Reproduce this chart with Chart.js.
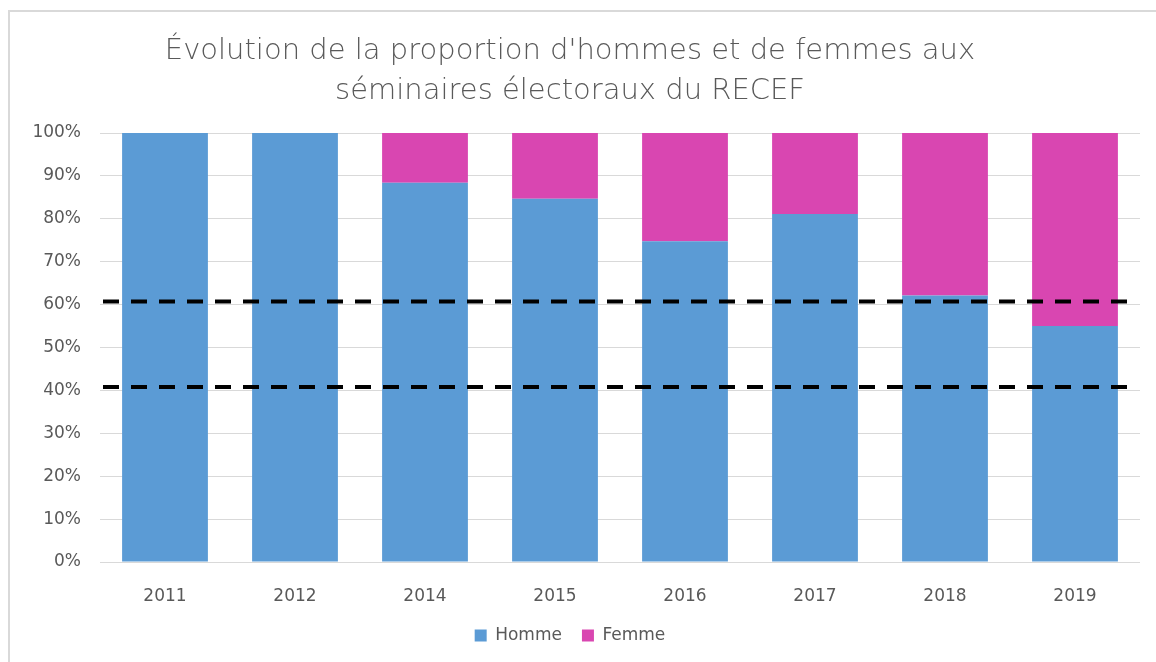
<!DOCTYPE html>
<html>
<head>
<meta charset="utf-8">
<script src="https://cdn.jsdelivr.net/npm/chart.js@4/dist/chart.umd.min.js"></script>
<style>
  html, body { margin: 0; padding: 0; background: #fff; }
  #cadre {
    position: absolute; left: 8px; top: 10px; width: 1160px; height: 660px;
    border-top: 2px solid #d9d9d9; border-left: 2px solid #d9d9d9;
  }
  #zone { position: absolute; left: 0; top: 0; width: 1156px; height: 662px; }
</style>
</head>
<body>
<div id="cadre"></div>
<div id="zone"><canvas id="graphique"></canvas></div>
<script>
// Données
const annees = ['2011', '2012', '2014', '2015', '2016', '2017', '2018', '2019'];
const homme = [100, 100, 88.4, 84.7, 74.8, 81.1, 62.1, 55.0];
const femme = [0, 0, 11.6, 15.3, 25.2, 18.9, 37.9, 45.0];
const seuils = [60.7, 40.8];

const gris = '#595959';
const police = "'DejaVu Sans', sans-serif";

// Lignes pointillées horizontales (seuils)
const lignesSeuils = {
  id: 'lignesSeuils',
  afterDatasetsDraw(chart) {
    const ctx = chart.ctx;
    const zone = chart.chartArea;
    const y = chart.scales.y;
    ctx.save();
    ctx.strokeStyle = '#000';
    ctx.lineWidth = 4;
    ctx.setLineDash([16, 12]);
    seuils.forEach(v => {
      const py = y.getPixelForValue(v);
      ctx.beginPath();
      ctx.moveTo(zone.left + 3, py);
      ctx.lineTo(zone.right - 12, py);
      ctx.stroke();
    });
    ctx.restore();
  }
};

new Chart(document.getElementById('graphique'), {
  type: 'bar',
  data: {
    labels: annees,
    datasets: [
      { label: 'Homme', data: homme, backgroundColor: '#5B9BD5' },
      { label: 'Femme', data: femme, backgroundColor: '#D946B1' }
    ]
  },
  options: {
    responsive: true,
    maintainAspectRatio: false,
    animation: false,
    layout: { padding: { left: 0, right: 16, top: 0, bottom: 8 } },
    datasets: { bar: { categoryPercentage: 1, barPercentage: 0.66 } },
    scales: {
      x: {
        stacked: true,
        grid: { display: false },
        border: { display: false },
        ticks: { color: gris, font: { family: police, size: 17 }, padding: 16 },
        afterFit(s) { s.height = 45; }
      },
      y: {
        stacked: true,
        min: 0, max: 100,
        grid: { color: '#d9d9d9', drawTicks: false },
        border: { display: false },
        ticks: {
          stepSize: 10, color: gris, padding: 19,
          font: { family: police, size: 17 },
          callback: v => v + '%'
        },
        afterFit(s) { s.width = 100; }
      }
    },
    plugins: {
      title: {
        display: true,
        text: ["Évolution de la proportion d'hommes et de femmes aux", 'séminaires électoraux du RECEF'],
        color: gris,
        font: { family: police, size: 29, weight: '300', lineHeight: 1.38 },
        padding: { top: 31, bottom: 22 }
      },
      legend: {
        position: 'bottom',
        labels: { color: gris, boxWidth: 12, boxHeight: 12, font: { family: police, size: 17 }, padding: 20 }
      },
      tooltip: { enabled: false }
    }
  },
  plugins: [lignesSeuils]
});
</script>
</body>
</html>
